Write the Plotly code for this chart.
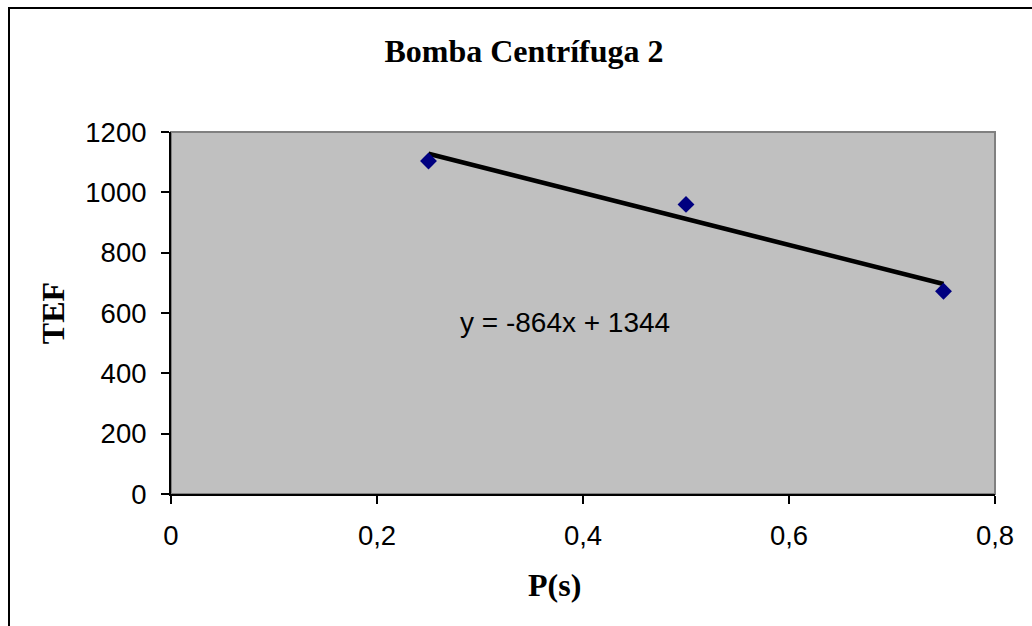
import numpy as np
import plotly.graph_objects as go

# data
p_s = [0.25, 0.5, 0.75]
tef = [1104, 960, 672]
title_text = "Bomba Centrífuga 2"
x_ticks = [0, 0.2, 0.4, 0.6, 0.8]
y_ticks = [0, 200, 400, 600, 800, 1000, 1200]

# linear trend line from the data
slope, intercept = np.polyfit(p_s, tef, 1)
trend_x = [min(p_s), max(p_s)]
trend_y = [slope * v + intercept for v in trend_x]
eq_text = "y = %dx + %d" % (round(slope), round(intercept))

fig = go.Figure()
fig.add_trace(go.Scatter(x=trend_x, y=trend_y, mode="lines",
                         line=dict(color="black", width=4.5), showlegend=False))
fig.add_trace(go.Scatter(x=p_s, y=tef, mode="markers",
                         marker=dict(symbol="diamond", size=13, color="#000080"),
                         showlegend=False))

axis_font = dict(family="Liberation Sans, Arial", size=27.5, color="black")
eq_font = dict(family="Liberation Sans, Arial", size=28, color="black")
serif_bold = dict(family="Liberation Serif, Times New Roman", size=32, color="black")

fig.update_layout(
    width=1032, height=626,
    margin=dict(l=171, r=37, t=132, b=132),
    paper_bgcolor="white", plot_bgcolor="#C0C0C0",
    separators=",.",
    title=dict(text="<b>" + title_text + "</b>", font=serif_bold,
               x=524 / 1032, xref="container", xanchor="center",
               y=1 - 51 / 626, yanchor="middle"),
    xaxis=dict(range=[0, 0.8], tickvals=x_ticks, showgrid=False, zeroline=False,
               showline=True, linecolor="black", linewidth=2,
               ticks="outside", ticklen=8, tickcolor="black", tickwidth=1.5,
               tickfont=axis_font, ticklabelstandoff=8),
    yaxis=dict(range=[0, 1200], tickvals=y_ticks, showgrid=False, zeroline=False,
               showline=True, linecolor="black", linewidth=2,
               ticks="outside", ticklen=8, tickcolor="black", tickwidth=1.5,
               tickfont=axis_font, ticklabelstandoff=9,
               title=dict(text="<b>TEF</b>", font=serif_bold, standoff=11)),
)

# x axis title sits a bit left of the plot centre
fig.add_annotation(xref="paper", yref="paper", x=(554 - 171) / 824, y=(494 - 585) / 362,
                   text="<b>P(s)</b>", showarrow=False, font=serif_bold,
                   xanchor="center", yanchor="middle")

# gray border on top/right of plot area
fig.add_shape(type="rect", xref="paper", yref="paper", x0=0, x1=1, y0=0, y1=1,
              line=dict(color="#808080", width=2), layer="below")
# outer chart frame (cut off by the image edge on the right/bottom)
fig.add_shape(type="rect", xref="paper", yref="paper",
              x0=(9 - 171) / 824, x1=(1045 - 171) / 824,
              y0=(494 - 640) / 362, y1=(494 - 8) / 362,
              line=dict(color="black", width=2))

fig.add_annotation(x=0.3825, y=570, text=eq_text, showarrow=False,
                   font=eq_font, xanchor="center", yanchor="middle")

fig.write_html("out.html", config={"displayModeBar": False},
               post_script="document.body.style.margin='0';")
